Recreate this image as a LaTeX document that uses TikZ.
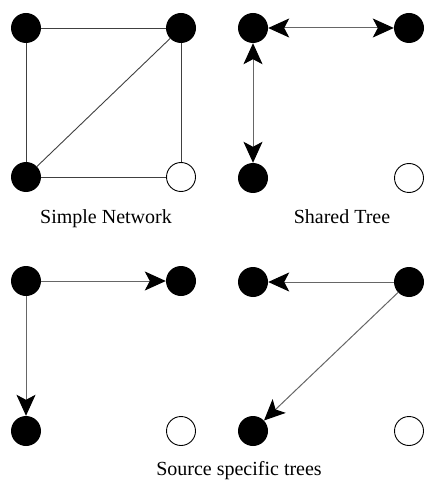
\documentclass[tikz,border=0pt]{standalone}
\usepackage{fontspec}
\setmainfont{Liberation Serif}
\usetikzlibrary{arrows.meta}
\begin{document}
\begin{tikzpicture}[x=1pt,y=-1pt,
  full/.style={circle,fill=black,inner sep=0pt,minimum size=30pt},
  open/.style={circle,draw=black,line width=0.9pt,fill=white,inner sep=0pt,minimum size=29pt},
  link/.style={draw=black!75,line width=0.9pt},
  tip/.tip={Stealth[length=21pt,width=19pt,inset=5pt,black]},
  tree/.style={draw=black!60,line width=1pt,-tip},
  tree2/.style={draw=black!60,line width=1pt,tip-tip},
  lab/.style={anchor=base,inner sep=0pt,font=\fontsize{20}{24}\selectfont}]
\useasboundingbox (0,0) rectangle (424,486);
% Simple network
\node[full] (a1) at (26,28) {};
\node[full] (b1) at (181,28) {};
\node[full] (c1) at (26,177) {};
\node[open] (d1) at (181,177) {};
\draw[link] (a1) -- (b1);
\draw[link] (a1) -- (c1);
\draw[link] (b1) -- (c1);
\draw[link] (b1) -- (d1);
\draw[link] (c1) -- (d1);
\node[lab] (l1) at (106,223) {Simple Network};
% Shared tree
\node[full] (a2) at (253,28) {};
\node[full] (b2) at (409,28) {};
\node[full] (c2) at (253,178) {};
\node[open] (d2) at (409,178) {};
\draw[tree2] (a2) -- (b2);
\draw[tree2] (a2) -- (c2);
\node[lab] (l2) at (342,223) {Shared Tree};
% Source specific trees (left)
\node[full] (a3) at (26,281) {};
\node[full] (b3) at (181,281) {};
\node[full] (c3) at (26,431) {};
\node[open] (d3) at (181,431) {};
\draw[tree] (a3) -- (b3);
\draw[tree] (a3) -- (c3);
% Source specific trees (right)
\node[full] (a4) at (253,282) {};
\node[full] (b4) at (409,282) {};
\node[full] (c4) at (253,431) {};
\node[open] (d4) at (409,431) {};
\draw[tree] (b4) -- (a4);
\draw[tree] (b4) -- (c4);
\node[lab] (l3) at (239,475) {Source specific trees};
\end{tikzpicture}
\end{document}
